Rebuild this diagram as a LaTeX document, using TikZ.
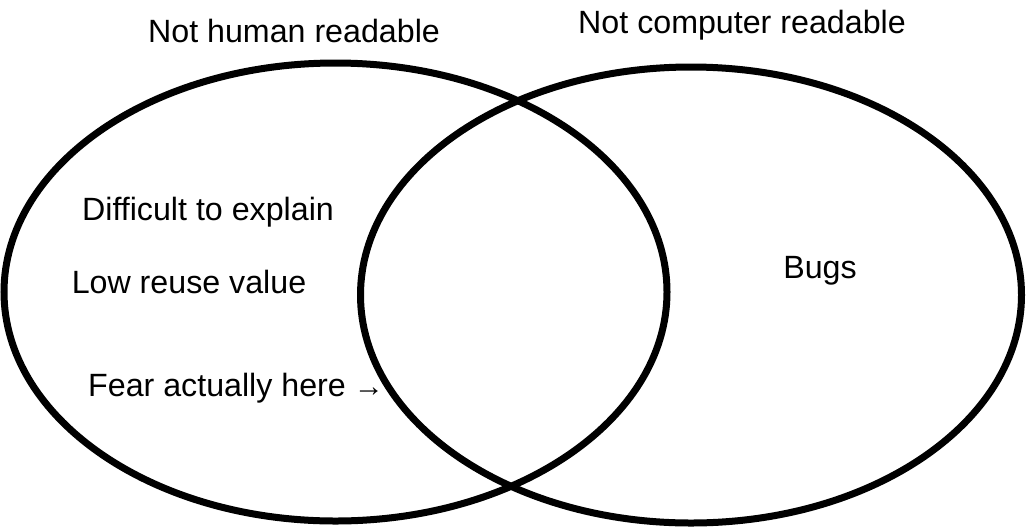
\documentclass[tikz,border=0pt]{standalone}
\usepackage{fontspec}
\setmainfont{Liberation Sans}
\usetikzlibrary{shapes.geometric}
\begin{document}
\begin{tikzpicture}[x=1pt,y=-1pt,
  venn/.style={draw=black, line width=7pt, ellipse, inner sep=0pt, outer sep=0pt},
  lab/.style={inner sep=0pt, anchor=base, font=\fontsize{32.2}{38}\selectfont}]
\useasboundingbox (0,0) rectangle (1027,531);
\node[venn, minimum width=663pt, minimum height=458pt] (human) at (335.5,292) {};
\node[venn, minimum width=661pt, minimum height=456pt] (computer) at (691,295) {};
\node[lab] (t1) at (294,42.3) {Not human readable};
\node[lab] (t2) at (742,33.3) {Not computer readable};
\node[lab] (t3) at (208,220) {Difficult to explain};
\node[lab] (t4) at (189,293) {Low reuse value};
\node[lab, anchor=base west] (t5) at (88,396.7) {Fear actually here\hspace{8pt}{\fontsize{30}{32}\selectfont →}};
\node[lab] (t6) at (820,278) {Bugs};
\end{tikzpicture}
\end{document}
